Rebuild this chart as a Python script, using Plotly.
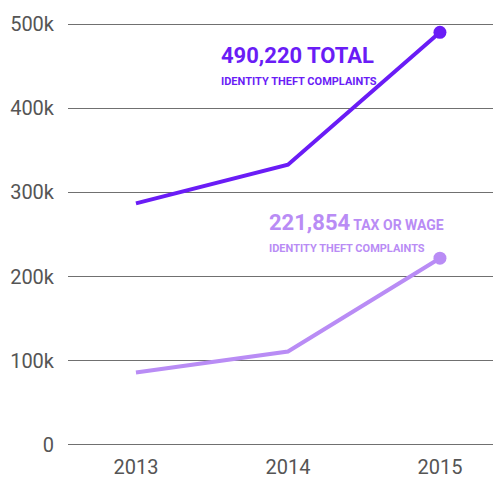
import plotly.graph_objects as go

years = [2013, 2014, 2015]
total_complaints = [287000, 333000, 490220]
tax_wage_complaints = [86000, 111000, 221854]
y_ticks = [0, 100000, 200000, 300000, 400000, 500000]
y_tick_labels = ["0", "100k", "200k", "300k", "400k", "500k"]

DARK = "#6a1cf6"
LIGHT = "#b98cf5"
NARROW = "Roboto, sans-serif"

fig = go.Figure()
fig.add_trace(go.Scatter(
    x=years, y=tax_wage_complaints, mode="lines",
    line=dict(color=LIGHT, width=4), hoverinfo="skip"))
fig.add_trace(go.Scatter(
    x=years[-1:], y=tax_wage_complaints[-1:], mode="markers",
    marker=dict(color=LIGHT, size=13), hoverinfo="skip"))
fig.add_trace(go.Scatter(
    x=years, y=total_complaints, mode="lines",
    line=dict(color=DARK, width=4), hoverinfo="skip"))
fig.add_trace(go.Scatter(
    x=years[-1:], y=total_complaints[-1:], mode="markers",
    marker=dict(color=DARK, size=13), hoverinfo="skip"))

ann = []
ann.append(dict(xref="paper", yref="y", x=0.355, y=463000, xanchor="left", yanchor="middle",
                text="<b>490,220 TOTAL</b>", showarrow=False,
                font=dict(family=NARROW, size=22, color=DARK)))
ann.append(dict(xref="paper", yref="y", x=0.355, y=432000, xanchor="left", yanchor="middle",
                text="<b>IDENTITY THEFT COMPLAINTS</b>", showarrow=False,
                font=dict(family=NARROW, size=11, color=DARK)))
ann.append(dict(xref="paper", yref="y", x=0.468, y=264000, xanchor="left", yanchor="middle",
                text="<b>221,854</b><span style='font-size:14px'><b> TAX OR WAGE</b></span>",
                showarrow=False,
                font=dict(family=NARROW, size=22, color=LIGHT)))
ann.append(dict(xref="paper", yref="y", x=0.468, y=233000, xanchor="left", yanchor="middle",
                text="<b>IDENTITY THEFT COMPLAINTS</b>", showarrow=False,
                font=dict(family=NARROW, size=11, color=LIGHT)))

fig.update_layout(
    width=493, height=481,
    margin=dict(l=68, r=0, t=22, b=34),
    paper_bgcolor="white", plot_bgcolor="white",
    showlegend=False,
    annotations=ann,
    xaxis=dict(
        range=[2012.553, 2015.349], tickvals=years, ticktext=[str(y) for y in years],
        showgrid=False, zeroline=False, showline=False,
        ticklabelstandoff=6,
        tickfont=dict(family="Roboto", size=20, color="#555555"),
        fixedrange=True),
    yaxis=dict(
        range=[-2500, 502500], tickvals=y_ticks, ticktext=y_tick_labels,
        showgrid=True, gridcolor="#707070", gridwidth=1.3,
        zeroline=False, showline=False,
        ticklabelstandoff=13,
        tickfont=dict(family="Roboto", size=20, color="#555555"),
        fixedrange=True),
)
fig.write_html("out.html")
